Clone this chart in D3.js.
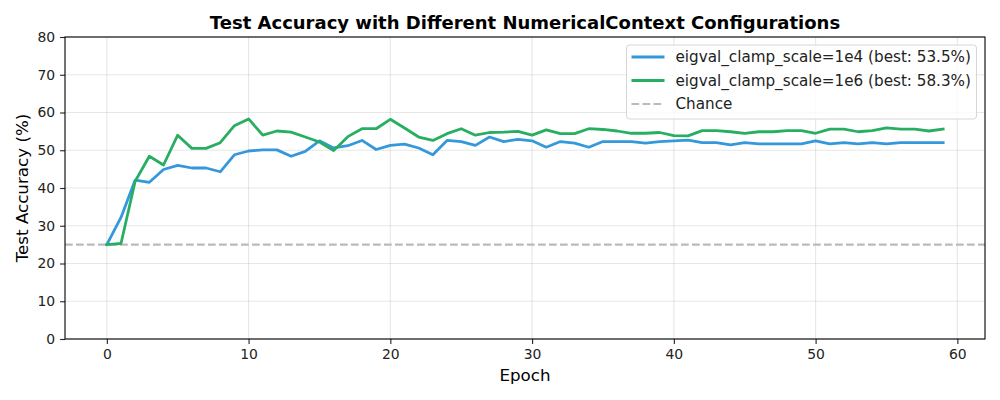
<!DOCTYPE html>
<html>
<head>
<meta charset="utf-8">
<script src="https://cdn.jsdelivr.net/npm/d3@7"></script>
<style>
  body { margin: 0; background: #fff; }
  svg { font-family: "DejaVu Sans", sans-serif; }
</style>
</head>
<body>
<svg id="chart" width="1000" height="400"></svg>
<script>
// values
var epochs = d3.range(60);

var scale1e4 = [
    25.0, 32.2, 42.1, 41.5, 44.9, 46.0, 45.3, 45.3, 44.3, 48.8,
    49.8, 50.1, 50.1, 48.4, 49.7, 52.5, 50.6, 51.2, 52.6, 50.2,
    51.3, 51.6, 50.6, 48.8, 52.6, 52.3, 51.3, 53.5, 52.3, 52.9,
    52.5, 50.8, 52.3, 51.9, 50.8, 52.3, 52.3, 52.3, 51.9, 52.3,
    52.5, 52.7, 52.0, 52.0, 51.4, 52.0, 51.7, 51.7, 51.7, 51.7,
    52.5, 51.7, 52.0, 51.7, 52.0, 51.7, 52.0, 52.0, 52.0, 52.0
];

var scale1e6 = [
    25.0, 25.3, 41.8, 48.4, 46.1, 54.0, 50.5, 50.5, 52.0, 56.5,
    58.3, 54.0, 55.1, 54.8, 53.5, 52.2, 49.9, 53.6, 55.7, 55.7,
    58.2, 55.9, 53.5, 52.6, 54.4, 55.7, 54.0, 54.7, 54.8, 55.0,
    54.0, 55.4, 54.4, 54.4, 55.7, 55.5, 55.1, 54.5, 54.5, 54.7,
    53.9, 53.8, 55.2, 55.2, 54.9, 54.5, 54.9, 54.9, 55.2, 55.2,
    54.5, 55.6, 55.6, 54.9, 55.2, 55.9, 55.6, 55.6, 55.1, 55.6
];

var chance = 25;

var xTicks = [0, 10, 20, 30, 40, 50, 60];
var yTicks = [0, 10, 20, 30, 40, 50, 60, 70, 80];

var seriesNames = [
    "eigval_clamp_scale=1e4 (best: 53.5%)",
    "eigval_clamp_scale=1e6 (best: 58.3%)",
    "Chance"
];
var seriesColors = ["#3498db", "#27ae60", "#bbbbbb"];

var svg = d3.select("#chart");
var margin = {left: 65, right: 15, top: 37, bottom: 61};
var width = 1000 - margin.left - margin.right;
var height = 400 - margin.top - margin.bottom;

var x = d3.scaleLinear().domain([-2.95, 61.95]).range([0, width]);
var y = d3.scaleLinear().domain([0, 80]).range([height, 0]);

var g = svg.append("g")
    .attr("transform", "translate(" + margin.left + "," + margin.top + ")");

// grid
g.append("g")
    .selectAll("line.gx")
    .data(xTicks)
    .join("line")
    .attr("x1", function(d) { return x(d); })
    .attr("x2", function(d) { return x(d); })
    .attr("y1", 0)
    .attr("y2", height)
    .attr("stroke", "#b0b0b0")
    .attr("stroke-opacity", 0.3)
    .attr("stroke-width", 1.1);

g.append("g")
    .selectAll("line.gy")
    .data(yTicks)
    .join("line")
    .attr("x1", 0)
    .attr("x2", width)
    .attr("y1", function(d) { return y(d); })
    .attr("y2", function(d) { return y(d); })
    .attr("stroke", "#b0b0b0")
    .attr("stroke-opacity", 0.3)
    .attr("stroke-width", 1.1);

// chance line
g.append("line")
    .attr("x1", 0)
    .attr("x2", width)
    .attr("y1", y(chance))
    .attr("y2", y(chance))
    .attr("stroke", seriesColors[2])
    .attr("stroke-width", 2.08)
    .attr("stroke-dasharray", "7.7,3.3");

var line = d3.line()
    .x(function(d, i) { return x(epochs[i]); })
    .y(function(d) { return y(d); });

[scale1e4, scale1e6].forEach(function(s, k) {
    g.append("path")
        .datum(s)
        .attr("d", line)
        .attr("fill", "none")
        .attr("stroke", seriesColors[k])
        .attr("stroke-width", 2.78)
        .attr("stroke-linejoin", "round")
        .attr("stroke-linecap", "square");
});

// axes
var xAxis = g.append("g")
    .attr("transform", "translate(0," + height + ")")
    .call(d3.axisBottom(x).tickValues(xTicks).tickSize(4.9).tickPadding(4.9).tickFormat(d3.format("d")));
var yAxis = g.append("g")
    .call(d3.axisLeft(y).tickValues(yTicks).tickSize(4.9).tickPadding(4.9).tickFormat(d3.format("d")));

[xAxis, yAxis].forEach(function(a) {
    a.select(".domain").remove();
    a.selectAll("text")
        .attr("font-family", "DejaVu Sans")
        .attr("font-size", "13.9px")
        .attr("fill", "#222");
    a.selectAll("line").attr("stroke", "#222").attr("stroke-width", 1.1);
});

// frame
g.append("rect")
    .attr("width", width)
    .attr("height", height)
    .attr("fill", "none")
    .attr("stroke", "#000")
    .attr("stroke-width", 1.1);

// labels
svg.append("text")
    .attr("x", margin.left + width / 2)
    .attr("y", 29)
    .attr("text-anchor", "middle")
    .attr("font-size", "18px")
    .attr("font-weight", "bold")
    .text("Test Accuracy with Different NumericalContext Configurations");

svg.append("text")
    .attr("x", margin.left + width / 2)
    .attr("y", 381)
    .attr("text-anchor", "middle")
    .attr("font-size", "16.7px")
    .text("Epoch");

svg.append("text")
    .attr("transform", "translate(28," + (margin.top + height / 2) + ") rotate(-90)")
    .attr("text-anchor", "middle")
    .attr("font-size", "16.7px")
    .text("Test Accuracy (%)");

// legend
var legend = svg.append("g").attr("transform", "translate(626.5,45)");
legend.append("rect")
    .attr("width", 350)
    .attr("height", 74)
    .attr("rx", 3)
    .attr("fill", "#fff")
    .attr("fill-opacity", 0.8)
    .attr("stroke", "#d6d6d6")
    .attr("stroke-width", 1);

var rows = legend.selectAll("g.row")
    .data(seriesNames)
    .join("g")
    .attr("transform", function(d, i) { return "translate(0," + (12 + i * 23.5) + ")"; });

rows.append("line")
    .attr("x1", 5)
    .attr("x2", 38)
    .attr("y1", 0)
    .attr("y2", 0)
    .attr("stroke", function(d, i) { return seriesColors[i]; })
    .attr("stroke-width", function(d, i) { return i == 2 ? 2.08 : 2.78; })
    .attr("stroke-dasharray", function(d, i) { return i == 2 ? "7.7,3.3" : null; });

rows.append("text")
    .attr("x", 49)
    .attr("y", 0)
    .attr("dy", "0.36em")
    .attr("font-size", "15.2px")
    .attr("fill", "#222")
    .text(function(d) { return d; });
</script>
</body>
</html>
